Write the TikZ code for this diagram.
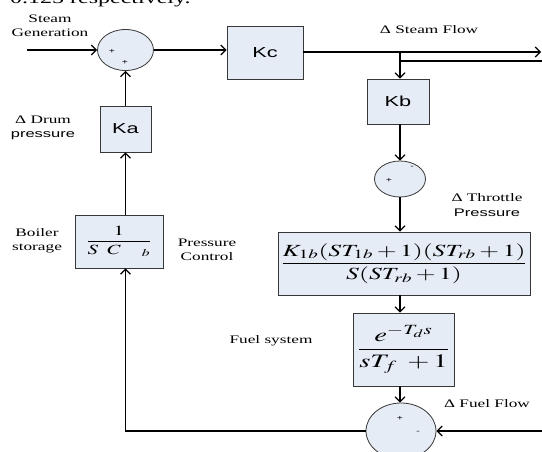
\documentclass[tikz,border=0pt]{standalone}
\usepackage{amsmath}
\usepackage{mathptmx}
\usepackage[no-math]{fontspec}
\setmainfont{Liberation Serif}
\newfontfamily\lblserif{Liberation Serif}[FakeStretch=1.5]
\newfontfamily\lblsans{Liberation Sans}[FakeStretch=1.5]
\usetikzlibrary{shapes.geometric,arrows.meta}
\definecolor{boxfill}{RGB}{229,236,246}
\definecolor{boxline}{RGB}{55,55,55}
\newcommand{\mx}[1]{\scalebox{1.5}[1]{#1}}
\tikzset{
  blk/.style={draw=boxline,fill=boxfill,line width=0.8pt,inner sep=0pt},
  sumj/.style={ellipse,draw=boxline,fill=boxfill,line width=0.8pt,inner sep=0pt},
  arr/.style={line width=1.2pt,-{Straight Barb[length=5pt,width=10pt,line width=1.2pt]}},
  ln/.style={line width=1.2pt},
  lbl/.style={font=\lblserif\fontsize{11.5}{13.5}\selectfont,align=center,inner sep=0pt},
  slbl/.style={font=\lblsans\fontsize{11}{13.5}\selectfont,align=center,inner sep=0pt},
  klbl/.style={font=\lblsans\fontsize{14.5}{16}\selectfont},
  sgn/.style={font=\lblsans\fontsize{7}{8}\selectfont,inner sep=0pt}
}
\begin{document}
\begin{tikzpicture}[x=1pt,y=-1pt]
\useasboundingbox (0,0) rectangle (542,452);
\clip (0,0) rectangle (542,452);
% partially visible text at top
\node[anchor=base west,inner sep=0pt,font=\lblserif\fontsize{16}{18}\selectfont] (toptxt) at (10,4) {0.125 respectively.};
% blocks
\node[sumj,minimum width=56pt,minimum height=41pt] (s1) at (125.5,50) {};
\node[sgn] (s1a) at (112,51) {+};
\node[sgn] (s1b) at (125,62) {+};
\node[blk,minimum width=76pt,minimum height=53pt,klbl] (kc) at (265,52.5) {Kc};
\node[blk,minimum width=62pt,minimum height=45pt,klbl] (kb) at (398,101.5) {Kb};
\node[sumj,minimum width=51pt,minimum height=36pt] (s2) at (400,179) {};
\node[sgn] (s2a) at (412,167) {-};
\node[sgn] (s2b) at (389,180) {+};
\node[blk,minimum width=252pt,minimum height=63pt] (ctl) at (404,263.5)
  {\mx{\fontsize{17}{20}\selectfont$\dfrac{K_{1b}(ST_{1b}+1)(ST_{rb}+1)}{S(ST_{rb}+1)}$}};
\node[blk,minimum width=101pt,minimum height=73pt] (fuel) at (403.5,349.5)
  {\mx{\fontsize{19}{22}\selectfont$\dfrac{e^{-T_d s}}{sT_f\;+1}$}};
\node[sumj,minimum width=70pt,minimum height=56pt] (s3) at (401,431) {};
\node[sgn] (s3a) at (400,418) {+};
\node[sgn] (s3b) at (418,432) {-};
\node[blk,minimum width=88pt,minimum height=53pt] (boil) at (119,241.5)
  {\mx{\fontsize{14}{17}\selectfont$\dfrac{\;1\;}{S\;\;C\quad_{b}}$}};
\node[blk,minimum width=51pt,minimum height=46pt,klbl] (ka) at (125.5,129) {Ka};
% labels
\node[lbl] (lsg) at (50,26) {Steam\\Generation};
\node[lbl] (lsf) at (429,30) {Δ Steam Flow};
\node[lbl,anchor=base] (ldd) at (43,124) {Δ Drum};
\node[slbl,anchor=base] (ldp) at (43,138) {pressure};
\node[lbl] (lbs) at (37,241) {Boiler\\storage};
\node[lbl] (lpc) at (207,250) {Pressure\\Control};
\node[lbl,anchor=base] (ltp) at (487,202) {Δ Throttle};
\node[slbl,anchor=base] (ltp2) at (487,217) {Pressure};
\node[lbl] (lfs) at (271,341) {Fuel system};
\node[lbl] (lff) at (487,404) {Δ Fuel Flow};
% coordinates
\coordinate (in1) at (27,50);
\coordinate (br) at (400,52);
\coordinate (out1) at (541,52);
\coordinate (br2) at (400,61);
\coordinate (out2) at (542,61);
\coordinate (in3) at (542,431);
% connectors
\draw[arr] (in1) -- (s1.west);
\draw[arr] (s1.east) -- (s1.east -| kc.west);
\draw[arr] (kc.east |- br) -- (out1);
\draw[ln] (br2) -- (out2);
\draw[arr] (br) -- (br |- kb.north);
\draw[arr] (kb.south -| s2) -- (s2.north);
\draw[arr] (s2.south) -- (ctl.north -| s2);
\draw[arr] (ctl.south -| s2) -- (fuel.north -| s2);
\draw[arr] (fuel.south -| s2) -- (s3.north -| s2);
\draw[arr] (in3) -- (s3.east);
\draw[arr] (s3.west) -| (boil.south -| ka);
\draw[arr] (boil.north -| ka) -- (ka.south);
\draw[arr] (ka.north) -- (s1.south);
\end{tikzpicture}
\end{document}
